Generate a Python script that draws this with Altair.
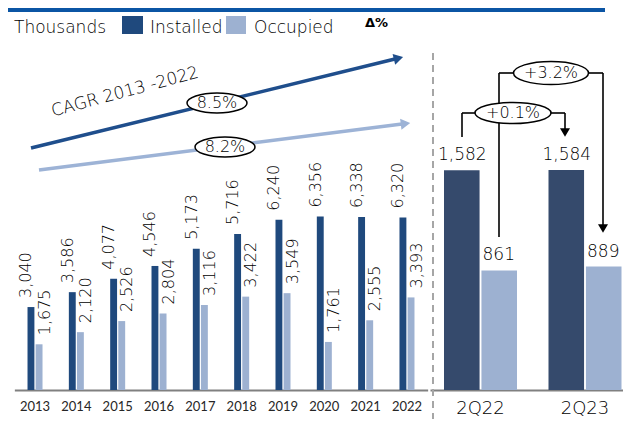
import altair as alt
import pandas as pd

# ---------------- data ----------------
years = ["2013", "2014", "2015", "2016", "2017", "2018", "2019", "2020", "2021", "2022"]
installed = [3040, 3586, 4077, 4546, 5173, 5716, 6240, 6356, 6338, 6320]
occupied = [1675, 2120, 2526, 2804, 3116, 3422, 3549, 1761, 2555, 3393]
quarters = ["2Q22", "2Q23"]
q_installed = [1582, 1584]
q_occupied = [861, 889]
series = ["Installed", "Occupied"]
cagr_labels = ["8.5%", "8.2%"]
delta_labels = ["+0.1%", "+3.2%"]
unit_label = "Thousands"
cagr_title = "CAGR 2013 -2022"
delta_title = "Δ%"


def fmt(v):
    return f"{v:,}"


left = pd.DataFrame({
    "year": years * 2,
    "series": [series[0]] * len(years) + [series[1]] * len(years),
    "value": installed + occupied,
})
left["label"] = left["value"].map(fmt)

right = pd.DataFrame({
    "quarter": quarters * 2,
    "series": [series[0]] * len(quarters) + [series[1]] * len(quarters),
    "value": q_installed + q_occupied,
})
right["label"] = right["value"].map(fmt)

one = pd.DataFrame({"k": [0]})

# ---------------- layout / style ----------------
W, H = 615, 411
BASE = 382
FONT = "DejaVu Sans"
FW = 200
TXT = "#000000"
DARK_L = "#1F497D"
DARK_R = "#354A6C"
LIGHT = "#9DB1D1"
ARROW_D = "#1F4E8C"
ARROW_L = "#9DB3D6"

lx = alt.Scale(domain=years, range=[6.35, 419.65], paddingInner=0.637, paddingOuter=0.3185)
ly = alt.Scale(domain=[0, 14000], range=[BASE, 0], zero=True, nice=False)
lxo = alt.Scale(domain=series, paddingInner=0.15)
lc = alt.Scale(domain=series, range=[DARK_L, LIGHT])

rx = alt.Scale(domain=quarters, range=[422, 615], paddingInner=0.3014, paddingOuter=0.0742, align=0.903)
ry = alt.Scale(domain=[0, 2750], range=[BASE, 0], zero=True, nice=False)
rxo = alt.Scale(domain=series, paddingInner=0.05)
rc = alt.Scale(domain=series, range=[DARK_R, LIGHT])

axis_common = dict(orient="bottom", offset=BASE - H, title=None, ticks=False,
                   domainColor="#808080", domainWidth=2, labelAngle=0, grid=False)

left_bars = alt.Chart(left).mark_bar().encode(
    x=alt.X("year:N", scale=lx, axis=alt.Axis(labelFont="Lato", labelFontSize=13,
                                              labelColor="#262626",
                                              labelPadding=10, **axis_common)),
    xOffset=alt.XOffset("series:N", scale=lxo),
    y=alt.Y("value:Q", scale=ly, axis=None),
    color=alt.Color("series:N", scale=lc, legend=None),
)

left_labels = []
for s, dy in [(series[0], -5), (series[1], 6)]:
    left_labels.append(
        alt.Chart(left).transform_filter(alt.datum.series == s).mark_text(
            angle=270, align="left", baseline="middle", dx=9, dy=dy,
            font=FONT, fontWeight=FW, fontSize=16, color=TXT
        ).encode(
            x=alt.X("year:N", scale=lx, axis=None),
            xOffset=alt.XOffset("series:N", scale=lxo),
            y=alt.Y("value:Q", scale=ly, axis=None),
            text="label:N",
        )
    )

right_bars = alt.Chart(right).mark_bar().encode(
    x=alt.X("quarter:N", scale=rx, axis=alt.Axis(labelFont=FONT, labelFontWeight=FW,
                                                 labelFontSize=18, labelColor=TXT,
                                                 labelPadding=9, **axis_common)),
    xOffset=alt.XOffset("series:N", scale=rxo),
    y=alt.Y("value:Q", scale=ry, axis=None),
    color=alt.Color("series:N", scale=rc, legend=None),
)

right_labels = alt.Chart(right).mark_text(
    align="center", baseline="alphabetic", dy=-10, font=FONT, fontWeight=FW,
    fontSize=17, color=TXT
).encode(
    x=alt.X("quarter:N", scale=rx, axis=None),
    xOffset=alt.XOffset("series:N", scale=rxo),
    y=alt.Y("value:Q", scale=ry, axis=None),
    text="label:N",
)


# ---------------- decorations ----------------
def seg(x1, y1, x2, y2, color="#000000", width=1.6, dash=None):
    kw = dict(color=color, strokeWidth=width)
    if dash:
        kw["strokeDash"] = dash
    return alt.Chart(one).mark_rule(**kw).encode(
        x=alt.value(x1), y=alt.value(y1), x2=alt.value(x2), y2=alt.value(y2))


def sym(x, y, shape, size, color, angle=0):
    return alt.Chart(one).mark_point(shape=shape, size=size, angle=angle, filled=True,
                                     color=color, opacity=1).encode(
        x=alt.value(x), y=alt.value(y))


def ellipse(x, y, w, h):
    ry_ = h / w
    path = f"M-1,0A1,{ry_:.4f},0,1,0,1,0A1,{ry_:.4f},0,1,0,-1,0Z"
    return alt.Chart(one).mark_point(shape=path, size=w * w, fill="white", fillOpacity=1,
                                     stroke="#000000", strokeWidth=1.5, opacity=1).encode(
        x=alt.value(x), y=alt.value(y))


def txt(x, y, s, size=16, align="left", baseline="alphabetic", angle=0, bold=False):
    kw = dict(align=align, baseline=baseline, fontSize=size, font=FONT, color=TXT,
              fontWeight="bold" if bold else FW)
    if angle:
        kw["angle"] = angle
    return alt.Chart(one).mark_text(**kw).encode(
        x=alt.value(x), y=alt.value(y), text=alt.value(s))


def rect(x1, y1, x2, y2, color):
    return alt.Chart(one).mark_rect(color=color).encode(
        x=alt.value(x1), y=alt.value(y1), x2=alt.value(x2), y2=alt.value(y2))


deco_back = [
    rect(0, 0, 597, 4, "#0B55A4"),
    seg(425, 45, 425, H, color="#A6A6A6", width=2, dash=[7, 5]),
    # CAGR arrows
    seg(23, 140, 391, 50, color=ARROW_D, width=3.5),
    seg(31, 162, 398, 115.5, color=ARROW_L, width=3.5),
    sym(390.5, 50.2, "triangle-right", 120, ARROW_D, angle=346.3),
    sym(397.5, 115.6, "triangle-right", 120, ARROW_L, angle=352.8),
    # brackets
    seg(454, 129, 454, 105), seg(454, 105, 470, 105),
    seg(540, 105, 557, 105), seg(557, 105, 557, 122),
    sym(557, 124.5, "triangle-down", 100, "#000000"),
    seg(491, 229, 491, 65), seg(491, 65, 507, 65),
    seg(580, 65, 595, 65), seg(595, 65, 595, 218),
    sym(595, 220.5, "triangle-down", 100, "#000000"),
]

deco_front = [
    ellipse(209, 95, 60, 20), txt(209, 95, cagr_labels[0], align="center", baseline="middle"),
    ellipse(217, 139, 60, 20), txt(217, 139, cagr_labels[1], align="center", baseline="middle"),
    ellipse(505, 105, 76, 21), txt(505, 105, delta_labels[0], size=16, align="center", baseline="middle"),
    ellipse(543, 65, 75, 23), txt(543, 65, delta_labels[1], size=16, align="center", baseline="middle"),
    txt(117, 84, cagr_title, size=17, align="center", baseline="middle", angle=345),
    # legend
    txt(6, 25, unit_label, size=17),
    rect(114, 8, 135, 26, DARK_L), txt(142, 25, series[0], size=17),
    rect(218, 8, 238, 26, LIGHT), txt(246, 25, series[1], size=17),
    txt(357, 19, delta_title, size=13, bold=True),
]

chart = alt.layer(
    *deco_back, left_bars, *left_labels, right_bars, right_labels, *deco_front
).resolve_scale(
    x="independent", y="independent", xOffset="independent", color="independent"
).properties(
    width=W, height=H, autosize=alt.AutoSizeParams(type="none"), padding=0,
    background="white"
).configure_view(stroke=None)

chart.save("out.html", embed_options={"renderer": "svg", "actions": False})
